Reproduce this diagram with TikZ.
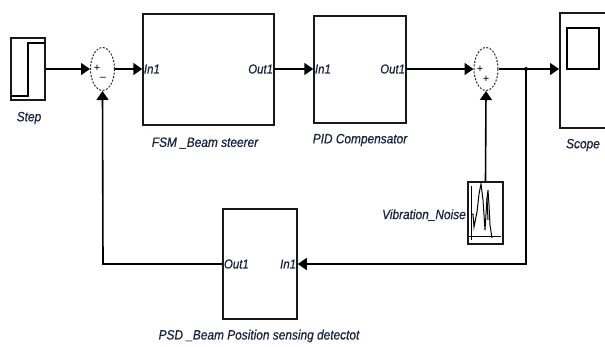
\documentclass[tikz,border=0pt]{standalone}
\usepackage{fontspec}
\setmainfont{Liberation Sans}
\newfontfamily\lblfont[FakeStretch=0.88,FakeBold=0.6]{Liberation Sans}
\usetikzlibrary{arrows.meta,shapes.geometric}
\definecolor{txt}{RGB}{25,35,65}
\begin{document}
\begin{tikzpicture}[x=1pt,y=-1pt,
  blk/.style={draw=black!90,line width=1.5pt,fill=white,inner sep=0pt},
  sumb/.style={draw=black!85,ellipse,dash pattern=on 2pt off 1.5pt,line width=1pt,minimum width=24pt,minimum height=43pt,inner sep=0pt},
  lbl/.style={text=txt,font=\lblfont\itshape\fontsize{13.5}{15}\selectfont,inner sep=0pt},
  port/.style={text=txt,font=\lblfont\itshape\fontsize{13}{15}\selectfont,inner sep=1.5pt},
  sgn/.style={font=\fontsize{11}{12}\selectfont,inner sep=0pt},
  sig/.style={line width=1.6pt,-{Triangle[length=9pt,width=12pt]}},
  wire/.style={line width=1.6pt}]
\useasboundingbox (0,0) rectangle (605,346);
% Step
\node[blk,minimum width=34pt,minimum height=62pt] (step) at (28,69) {};
\draw[line width=1.2pt] (11,96) -- (28,96) -- (28,43) -- (45,43);
\node[lbl] (steplbl) at (29,118) {Step};
% Sum 1
\node[sumb] (s1) at (102.5,69) {};
\node[sgn] (p1) at (97,68) {+};
\node[sgn] (m1) at (103,79) {--};
% FSM
\node[blk,minimum width=131pt,minimum height=111pt] (fsm) at (208.5,69.5) {};
\node[port,anchor=west] (fsmin) at (fsm.west |- 0,69) {In1};
\node[port,anchor=east] (fsmout) at (fsm.east |- 0,69) {Out1};
\node[lbl] (fsmlbl) at (205,143) {FSM \_Beam steerer};
% PID
\node[blk,minimum width=92pt,minimum height=107pt] (pid) at (360,69.5) {};
\node[port,anchor=west] (pidin) at (pid.west |- 0,69) {In1};
\node[port,anchor=east] (pidout) at (pid.east |- 0,69) {Out1};
\node[lbl] (pidlbl) at (360,140) {PID Compensator};
% Sum 2
\node[sumb] (s2) at (486,69) {};
\node[sgn] (p2a) at (480,69) {+};
\node[sgn] (p2b) at (486,79) {+};
% Scope
\node[blk,minimum width=48pt,minimum height=115pt,anchor=north west] (scope) at (559,12) {};
\draw[line width=1.2pt] (567,28) rectangle (599,69);
\node[lbl] (scopelbl) at (583,145) {Scope};
% Vibration noise
\node[blk,minimum width=35pt,minimum height=62pt] (vib) at (485.5,213) {};
\draw[line width=1pt] (471,186) -- (471,240) (469,236) -- (501,236);
\draw[line width=1pt] (471,214) -- (473,214) -- (474,227) -- (477,212) -- (479,194) -- (481,184) -- (483,200) -- (485,230) -- (487,198) -- (488,190) -- (489,205) -- (490,225) -- (492,238);
\draw[line width=1pt] (487,198) -- (488,220);
\node[lbl,anchor=east] (viblbl) at (466,215) {Vibration\_Noise};
% PSD
\node[blk,minimum width=74pt,minimum height=110pt] (psd) at (260,264) {};
\node[port,anchor=west] (psdout) at (psd.west |- 0,264) {Out1};
\node[port,anchor=east] (psdin) at (psd.east |- 0,264) {In1};
\node[lbl] (psdlbl) at (259,336) {PSD \_Beam Position sensing detectot};
% junction
\coordinate (j) at (526,69);
\fill (j) circle (2pt);
\coordinate (jb) at (526,264);
\coordinate (fb) at (103,264);
% wires
\draw[sig] (step.east |- 0,69) -- (s1.west);
\draw[sig] (s1.east) -- (fsm.west |- 0,69);
\draw[sig] (fsm.east |- 0,69) -- (pid.west |- 0,69);
\draw[sig] (pid.east |- 0,69) -- (s2.west);
\draw[wire] (s2.east) -- (j);
\draw[sig] (j) -- (scope.west |- 0,69);
\draw[sig] (vib.north) -- (s2.south);
\draw[sig] (j) -- (jb) -- (psd.east |- 0,264);
\draw[sig] (psd.west |- 0,264) -- (fb) -- (s1.south);
\end{tikzpicture}
\end{document}
